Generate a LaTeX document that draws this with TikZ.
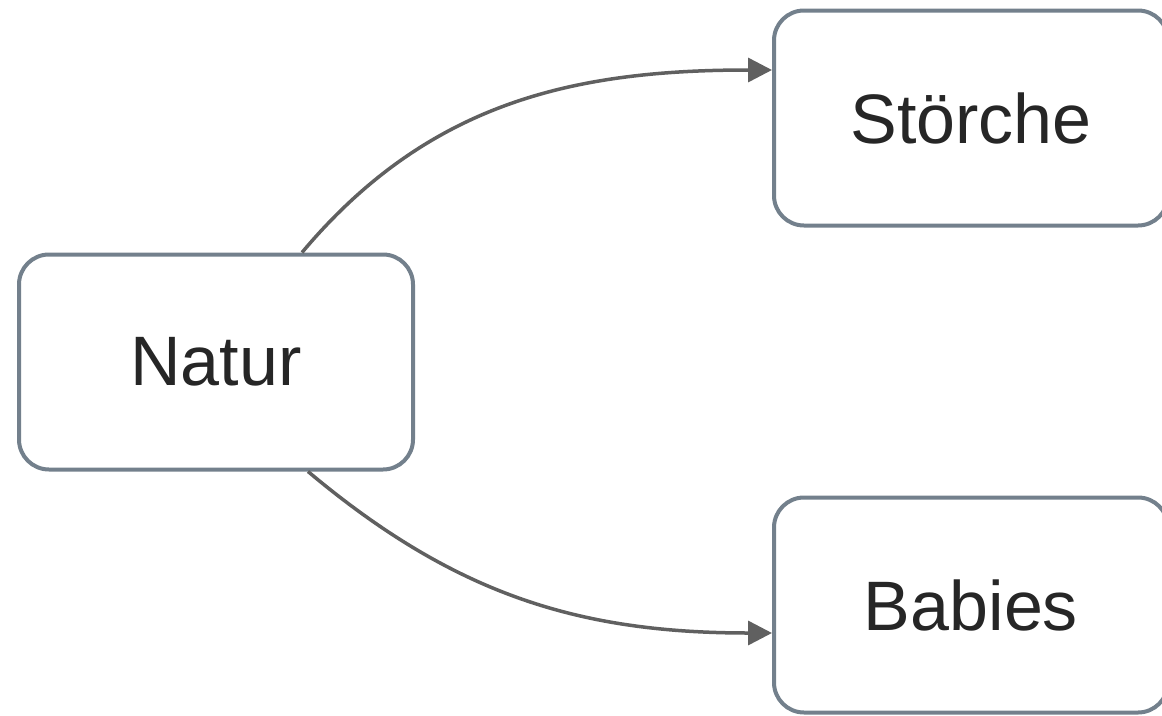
\documentclass[tikz,border=0pt]{standalone}
\usepackage{fontspec}
\setmainfont{Liberation Sans}
\usepackage{tikz}
\usetikzlibrary{
arrows.meta,
positioning
}
\definecolor{boxgray}{RGB}{115,128,140}
\definecolor{linkgray}{RGB}{96,96,96}
\definecolor{textgray}{RGB}{38,38,38}

\begin{document}
\begin{tikzpicture}[
  x=1pt, y=-1pt,
  >={Triangle[length=24pt,width=24pt]},
  box/.style={
    draw=boxgray, line width=4pt, rounded corners=30pt,
    fill=white, text=textgray,
    minimum width=394pt, minimum height=215pt,
    font=\fontsize{70}{84}\selectfont, inner sep=0pt
  },
  link/.style={
    ->, linkgray, line width=3.5pt
  }
]

\useasboundingbox (0,0) rectangle (1162,715);

%% ============================================================
%%  BOXES
%% ============================================================
\node[box] (natur)   at (216, 362) {Natur};
\node[box] (stoerche) at (971, 118) {Störche};
\node[box] (babies)  at (971, 605) {Babies};

%% ============================================================
%%  ARROWS
%% ============================================================
\draw[link]
  ([xshift=86pt]natur.north) to[out=50, in=180] ([yshift=48pt]stoerche.west);
\draw[link]
  ([xshift=92pt]natur.south) to[out=-40, in=180] ([yshift=-28pt]babies.west);

\end{tikzpicture}
\end{document}
